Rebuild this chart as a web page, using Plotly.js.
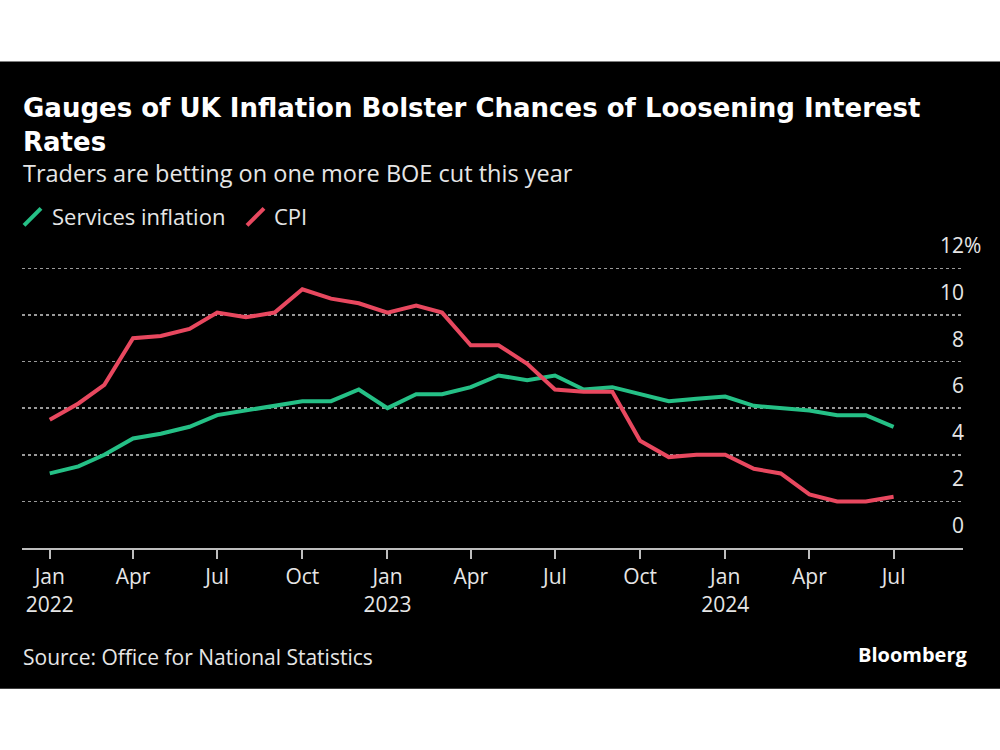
<!DOCTYPE html>
<html>
<head>
<meta charset="utf-8">
<script src="https://cdn.plot.ly/plotly-3.0.1.min.js"></script>
<style>
  html, body { margin: 0; padding: 0; background: #fff; }
  #chart { width: 1000px; height: 750px; }
</style>
</head>
<body>
<div id="chart"></div>
<script>
// ---- Data ----
const months = [
  '2022-01-01','2022-02-01','2022-03-01','2022-04-01','2022-05-01','2022-06-01',
  '2022-07-01','2022-08-01','2022-09-01','2022-10-01','2022-11-01','2022-12-01',
  '2023-01-01','2023-02-01','2023-03-01','2023-04-01','2023-05-01','2023-06-01',
  '2023-07-01','2023-08-01','2023-09-01','2023-10-01','2023-11-01','2023-12-01',
  '2024-01-01','2024-02-01','2024-03-01','2024-04-01','2024-05-01','2024-06-01',
  '2024-07-01'
];
const servicesInflation = [
  3.2, 3.5, 4.0, 4.7, 4.9, 5.2, 5.7, 5.9, 6.1, 6.3, 6.3, 6.8,
  6.0, 6.6, 6.6, 6.9, 7.4, 7.2, 7.4, 6.8, 6.9, 6.6, 6.3, 6.4,
  6.5, 6.1, 6.0, 5.9, 5.7, 5.7, 5.2
];
const cpi = [
  5.5, 6.2, 7.0, 9.0, 9.1, 9.4, 10.1, 9.9, 10.1, 11.1, 10.7, 10.5,
  10.1, 10.4, 10.1, 8.7, 8.7, 7.9, 6.8, 6.7, 6.7, 4.6, 3.9, 4.0,
  4.0, 3.4, 3.2, 2.3, 2.0, 2.0, 2.2
];
const seriesNames = ['Services inflation', 'CPI'];
const xTickVals = [
  '2022-01-01','2022-04-01','2022-07-01','2022-10-01',
  '2023-01-01','2023-04-01','2023-07-01','2023-10-01',
  '2024-01-01','2024-04-01','2024-07-01'
];
const xTickText = [
  'Jan<br>2022','Apr','Jul','Oct',
  'Jan<br>2023','Apr','Jul','Oct',
  'Jan<br>2024','Apr','Jul'
];
const yTickVals = [0, 2, 4, 6, 8, 10, 12];
const yTickText = ['0', '2', '4', '6', '8', '10', '12'];
const yUnit = '%';

// ---- Style ----
const GREEN = '#25c086';
const RED = '#e8485f';
const FONT = 'Open Sans, Noto Sans, sans-serif';
const TITLE_FONT = 'DejaVu Sans, Open Sans, sans-serif';
const TEXT = '#e6e6e6';

// plot area in pixels (y range 0..13, 0 at 548px, 12 at 268px)
const YMAX = 13;
const L = 22, R = 963, B = 548, T = 548 - YMAX * (280 / 12);
const px = v => (v - L) / (R - L);
const py = v => (B - v) / (B - T);

const traces = [
  { x: months, y: servicesInflation, name: seriesNames[0], type: 'scatter', mode: 'lines',
    line: { color: GREEN, width: 4 }, showlegend: false, hoverinfo: 'x+y' },
  { x: months, y: cpi, name: seriesNames[1], type: 'scatter', mode: 'lines',
    line: { color: RED, width: 4 }, showlegend: false, hoverinfo: 'x+y' }
];

const yLabelAnnotations = yTickVals.map((v, i) => ({
  xref: 'paper', yref: 'y', x: px(966), y: v, yshift: 23,
  xanchor: 'right', yanchor: 'middle', showarrow: false,
  text: yTickText[i],
  font: { family: FONT, size: 21, color: TEXT }
}));
yLabelAnnotations.push({
  xref: 'paper', yref: 'y', x: px(962), y: yTickVals[yTickVals.length - 1], yshift: 23,
  xanchor: 'left', yanchor: 'middle', showarrow: false,
  text: yUnit, font: { family: FONT, size: 21, color: TEXT }
});

const layout = {
  width: 1000, height: 750,
  margin: { l: L, r: 1000 - R, t: T, b: 750 - B, pad: 0 },
  paper_bgcolor: '#ffffff',
  plot_bgcolor: '#000000',
  font: { family: FONT, color: TEXT, size: 20 },
  showlegend: false,
  xaxis: {
    type: 'date',
    range: ['2021-12-02', '2024-09-14'],
    tickvals: xTickVals, ticktext: xTickText,
    showgrid: false, zeroline: false,
    showline: true, linecolor: '#bdbdbd', linewidth: 2,
    ticks: 'outside', ticklen: 9, tickwidth: 2, tickcolor: '#bdbdbd',
    tickfont: { family: FONT, size: 21, color: TEXT },
    fixedrange: true
  },
  yaxis: {
    range: [0, YMAX],
    side: 'right',
    tickvals: yTickVals,
    showticklabels: false,
    ticks: '',
    showgrid: true, gridcolor: '#9a9a9a', gridwidth: 1.6, griddash: 'dot',
    zeroline: false, showline: false,
    fixedrange: true
  },
  shapes: [
    // black card background
    { type: 'rect', xref: 'paper', yref: 'paper', layer: 'below',
      x0: px(0), x1: px(1000), y0: py(689), y1: py(61),
      fillcolor: '#000000', line: { width: 0 } },
    // legend symbols
    { type: 'line', xref: 'paper', yref: 'paper',
      x0: px(24), y0: py(225), x1: px(41), y1: py(208),
      line: { color: GREEN, width: 4 } },
    { type: 'line', xref: 'paper', yref: 'paper',
      x0: px(247), y0: py(225), x1: px(264), y1: py(208),
      line: { color: RED, width: 4 } }
  ],
  annotations: [
    { xref: 'paper', yref: 'paper', x: px(21), y: py(125), xanchor: 'left', yanchor: 'middle',
      align: 'left', showarrow: false,
      text: '<b>Gauges of UK Inflation Bolster Chances of Loosening Interest<br>Rates</b>',
      font: { family: TITLE_FONT, size: 26, color: '#ffffff' } },
    { xref: 'paper', yref: 'paper', x: px(21), y: py(173), xanchor: 'left', yanchor: 'middle',
      showarrow: false, text: 'Traders are betting on one more BOE cut this year',
      font: { family: FONT, size: 23.5, color: TEXT } },
    { xref: 'paper', yref: 'paper', x: px(50), y: py(216), xanchor: 'left', yanchor: 'middle',
      showarrow: false, text: seriesNames[0],
      font: { family: FONT, size: 22, color: TEXT } },
    { xref: 'paper', yref: 'paper', x: px(272), y: py(216), xanchor: 'left', yanchor: 'middle',
      showarrow: false, text: seriesNames[1],
      font: { family: FONT, size: 22, color: TEXT } },
    { xref: 'paper', yref: 'paper', x: px(21), y: py(657), xanchor: 'left', yanchor: 'middle',
      showarrow: false, text: 'Source: Office for National Statistics',
      font: { family: FONT, size: 21, color: TEXT } },
    { xref: 'paper', yref: 'paper', x: px(970), y: py(655), xanchor: 'right', yanchor: 'middle',
      showarrow: false, text: '<b>Bloomberg</b>',
      font: { family: FONT, size: 20, color: '#ffffff' } }
  ].concat(yLabelAnnotations)
};

Plotly.newPlot('chart', traces, layout, { displayModeBar: false, staticPlot: true });
</script>
</body>
</html>
